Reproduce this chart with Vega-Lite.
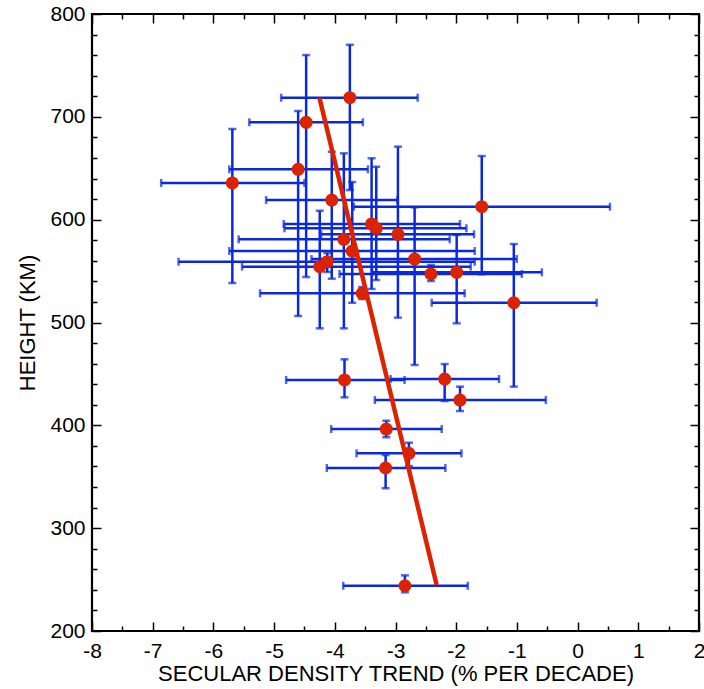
{
  "$schema": "https://vega.github.io/schema/vega-lite/v6.json",
  "width": 607,
  "height": 617,
  "autosize": "none",
  "padding": {"left": 92, "top": 14, "right": 5, "bottom": 58},
  "background": "white",
  "config": {
    "view": {"stroke": "black", "strokeWidth": 2.2},
    "font": "Liberation Sans"
  },
  "datasets": {
    "obs": [
      {"x": -3.752, "y": 718.6, "xlo": -4.884, "xhi": -2.635, "ylo": 628.8, "yhi": 770.1},
      {"x": -4.472, "y": 694.7, "xlo": -5.408, "xhi": -3.538, "ylo": 544.2, "yhi": 760.1},
      {"x": -4.604, "y": 649.0, "xlo": -5.738, "xhi": -3.455, "ylo": 506.3, "yhi": 705.7},
      {"x": -5.688, "y": 635.7, "xlo": -6.860, "xhi": -4.500, "ylo": 538.4, "yhi": 688.2},
      {"x": -4.050, "y": 619.1, "xlo": -5.132, "xhi": -2.970, "ylo": 542.6, "yhi": 666.1},
      {"x": -1.579, "y": 612.6, "xlo": -3.686, "xhi": 0.533, "ylo": 546.9, "yhi": 661.9},
      {"x": -3.394, "y": 595.8, "xlo": -4.842, "xhi": -1.937, "ylo": 532.6, "yhi": 659.7},
      {"x": -3.317, "y": 591.6, "xlo": -4.830, "xhi": -1.832, "ylo": 541.3, "yhi": 651.5},
      {"x": -2.960, "y": 585.8, "xlo": -4.224, "xhi": -1.706, "ylo": 504.7, "yhi": 671.0},
      {"x": -3.851, "y": 580.9, "xlo": -5.584, "xhi": -2.107, "ylo": 494.3, "yhi": 664.5},
      {"x": -3.713, "y": 569.5, "xlo": -5.738, "xhi": -1.695, "ylo": 519.2, "yhi": 636.6},
      {"x": -4.125, "y": 559.1, "xlo": -6.574, "xhi": -1.695, "ylo": 549.1, "yhi": 567.6},
      {"x": -4.248, "y": 554.3, "xlo": -5.528, "xhi": -1.761, "ylo": 494.3, "yhi": 608.7},
      {"x": -2.685, "y": 561.7, "xlo": -4.384, "xhi": -1.002, "ylo": 458.7, "yhi": 612.0},
      {"x": -2.416, "y": 547.2, "xlo": -3.922, "xhi": -0.919, "ylo": 540.3, "yhi": 555.9},
      {"x": -1.992, "y": 548.8, "xlo": -3.383, "xhi": -0.589, "ylo": 499.2, "yhi": 585.1},
      {"x": -3.548, "y": 528.4, "xlo": -5.231, "xhi": -1.860, "ylo": 522.8, "yhi": 534.5},
      {"x": -1.051, "y": 519.2, "xlo": -2.404, "xhi": 0.314, "ylo": 437.6, "yhi": 576.3},
      {"x": -3.840, "y": 444.1, "xlo": -4.802, "xhi": -2.850, "ylo": 427.2, "yhi": 464.2},
      {"x": -2.190, "y": 445.0, "xlo": -3.081, "xhi": -1.294, "ylo": 423.6, "yhi": 459.6},
      {"x": -1.937, "y": 424.6, "xlo": -3.340, "xhi": -0.523, "ylo": 413.9, "yhi": 437.6},
      {"x": -3.152, "y": 396.4, "xlo": -4.059, "xhi": -2.239, "ylo": 388.4, "yhi": 404.5},
      {"x": -2.779, "y": 372.8, "xlo": -3.642, "xhi": -1.914, "ylo": 360.4, "yhi": 383.1},
      {"x": -3.163, "y": 358.5, "xlo": -4.132, "xhi": -2.178, "ylo": 338.8, "yhi": 371.1},
      {"x": -2.845, "y": 244.0, "xlo": -3.861, "xhi": -1.810, "ylo": 237.6, "yhi": 254.1}
    ],
    "trend": [
      {"lx": -4.252, "ly": 718.3},
      {"lx": -2.322, "ly": 244.7}
    ]
  },
  "resolve": {"axis": {"x": "independent", "y": "independent"}},
  "layer": [
    {
      "mark": {"type": "rule", "color": "black", "strokeWidth": 2},
      "encoding": {
        "x": {"datum": 0, "type": "quantitative", "scale": {"domain": [-8, 2], "nice": false, "zero": false}, "axis": null}
      }
    },
    {
      "data": {"name": "obs"},
      "mark": {"type": "errorbar", "ticks": {"size": 8, "thickness": 2.5, "color": "#0a28dc"}, "thickness": 2.5, "color": "#0a28dc"},
      "encoding": {
        "x": {"field": "xlo", "type": "quantitative", "scale": {"domain": [-8, 2], "nice": false, "zero": false}, "axis": null},
        "x2": {"field": "xhi"},
        "y": {"field": "y", "type": "quantitative", "scale": {"domain": [200, 800], "nice": false, "zero": false}, "axis": null}
      }
    },
    {
      "data": {"name": "obs"},
      "mark": {"type": "errorbar", "ticks": {"size": 8, "thickness": 2.5, "color": "#0a28dc"}, "thickness": 2.5, "color": "#0a28dc"},
      "encoding": {
        "y": {"field": "ylo", "type": "quantitative", "scale": {"domain": [200, 800], "nice": false, "zero": false}, "axis": null},
        "y2": {"field": "yhi"},
        "x": {"field": "x", "type": "quantitative", "scale": {"domain": [-8, 2], "nice": false, "zero": false}, "axis": null}
      }
    },
    {
      "data": {"name": "obs"},
      "mark": {"type": "circle", "size": 170, "color": "#dd2200", "opacity": 1},
      "encoding": {
        "x": {
          "field": "x", "type": "quantitative",
          "scale": {"domain": [-8, 2], "nice": false, "zero": false},
          "axis": {
            "orient": "bottom",
            "values": [-8, -7.5, -7, -6.5, -6, -5.5, -5, -4.5, -4, -3.5, -3, -2.5, -2, -1.5, -1, -0.5, 0, 0.5, 1, 1.5, 2],
            "labelExpr": "datum.value % 1 === 0 ? '' + datum.value : ''",
            "tickSize": {"condition": {"test": "datum.value % 1 === 0", "value": -9}, "value": -5},
            "tickColor": "black", "tickWidth": 1.5,
            "domain": false, "grid": false,
            "labelFontSize": 21, "labelColor": "black", "labelPadding": 18, "labelFlush": false,
            "title": "SECULAR DENSITY TREND (% PER DECADE)",
            "titleFontSize": 22, "titleFontWeight": "normal", "titleColor": "black", "titlePadding": 2
          }
        },
        "y": {
          "field": "y", "type": "quantitative",
          "scale": {"domain": [200, 800], "nice": false, "zero": false},
          "axis": {
            "orient": "left",
            "values": [200, 220, 240, 260, 280, 300, 320, 340, 360, 380, 400, 420, 440, 460, 480, 500, 520, 540, 560, 580, 600, 620, 640, 660, 680, 700, 720, 740, 760, 780, 800],
            "labelExpr": "datum.value % 100 === 0 ? '' + datum.value : ''",
            "tickSize": {"condition": {"test": "datum.value % 100 === 0", "value": -9}, "value": -5},
            "tickColor": "black", "tickWidth": 1.5,
            "domain": false, "grid": false,
            "labelFontSize": 21, "labelColor": "black", "labelPadding": 16, "labelFlush": false,
            "title": "HEIGHT (KM)",
            "titleFontSize": 22, "titleFontWeight": "normal", "titleColor": "black", "titlePadding": 10
          }
        }
      }
    },
    {
      "data": {"name": "trend"},
      "mark": {"type": "line", "color": "#dd2200", "strokeWidth": 4.5},
      "encoding": {
        "x": {
          "field": "lx", "type": "quantitative",
          "scale": {"domain": [-8, 2], "nice": false, "zero": false},
          "axis": {
            "orient": "top",
            "values": [-8, -7.5, -7, -6.5, -6, -5.5, -5, -4.5, -4, -3.5, -3, -2.5, -2, -1.5, -1, -0.5, 0, 0.5, 1, 1.5, 2],
            "labels": false, "title": null, "domain": false, "grid": false,
            "tickSize": {"condition": {"test": "datum.value % 1 === 0", "value": -9}, "value": -5},
            "tickColor": "black", "tickWidth": 1.5
          }
        },
        "y": {
          "field": "ly", "type": "quantitative",
          "scale": {"domain": [200, 800], "nice": false, "zero": false},
          "axis": {
            "orient": "right",
            "values": [200, 220, 240, 260, 280, 300, 320, 340, 360, 380, 400, 420, 440, 460, 480, 500, 520, 540, 560, 580, 600, 620, 640, 660, 680, 700, 720, 740, 760, 780, 800],
            "labels": false, "title": null, "domain": false, "grid": false,
            "tickSize": {"condition": {"test": "datum.value % 100 === 0", "value": -9}, "value": -5},
            "tickColor": "black", "tickWidth": 1.5
          }
        }
      }
    }
  ]
}
